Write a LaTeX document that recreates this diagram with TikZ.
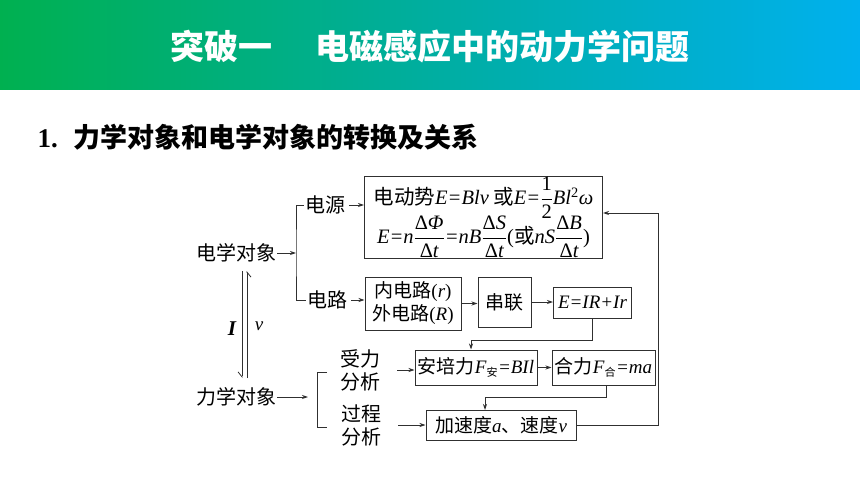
\RequirePackage{fix-cm}
\documentclass[tikz,border=0pt]{standalone}
\usepackage{amsmath}
\usepackage{fontspec}
\newfontfamily\cjk{Noto Sans CJK SC}
\newfontfamily\tms{Liberation Serif}
\newcommand\vv[1]{{\tms\itshape #1}}
\newcommand\frc[2]{$\dfrac{\mbox{\tms #1}}{\mbox{\tms #2}}$}
\newcommand\sbs[1]{$_{\mbox{\cjk\fontsize{11}{11}\selectfont #1}}$}
\usetikzlibrary{arrows.meta,positioning}
\definecolor{headgreen}{HTML}{00B050}
\definecolor{headteal}{HTML}{00AEA0}
\definecolor{headblue}{HTML}{00B0EE}
\definecolor{lineclr}{HTML}{303030}

\begin{document}
\begin{tikzpicture}[x=1pt, y=-1pt, >={Stealth[length=6pt,width=4pt]},
  lbl/.style={font=\cjk\fontsize{20}{23}\selectfont, inner sep=1pt, align=center},
  box/.style={draw=lineclr, line width=1pt, font=\cjk\fontsize{19}{23}\selectfont, inner sep=1pt, align=center},
  conn/.style={draw=lineclr, line width=0.9pt},
  harp/.style={draw=lineclr, line width=0.8pt, -{Straight Barb[harpoon,swap,length=5pt,width=8pt]}}]
\useasboundingbox (0,0) rectangle (860,484);
% header band
\shade[left color=headgreen, right color=headblue, middle color=headteal] (0,0) rectangle (860,90);
\node[font=\cjk\bfseries\fontsize{34}{40}\selectfont, text=white] (title) at (430,47) {突破一\hspace{44pt}电磁感应中的动力学问题};
\node[anchor=west, font=\cjk\bfseries\fontsize{27}{30}\selectfont] (sub) at (34,137) {{\tms\bfseries 1.}\hspace{16pt}力学对象和电学对象的转换及关系};

% left column
\node[lbl] (elec) at (236,253) {电学对象};
\node[lbl] (mech) at (236,397) {力学对象};
\node[lbl] (src) at (325,205) {电源};
\node[lbl] (circ) at (327,300) {电路};
\node[lbl] (force) at (360,370) {受力\\分析};
\node[lbl] (proc) at (361,425) {过程\\分析};

% boxes
\node[box, minimum width=238, minimum height=81, font=\cjk\fontsize{20.5}{24}\selectfont] (emf) at (483.5,217.5)
  {电动势\vv{E=Blv} 或\vv{E=}\frc{1}{2}\vv{Bl}\textsuperscript{\tms 2}\vv{ω}\\[-4pt]
   \vv{E=n}\frc{Δ\itshape Φ}{Δ\itshape t}\vv{=nB}\frc{Δ\itshape S}{Δ\itshape t}{\tms(}或\vv{nS}\frc{Δ\itshape B}{Δ\itshape t}{\tms)}};
\node[box, minimum width=96, minimum height=53] (inner) at (413,303.5) {内电路{\tms(\itshape r\/\upshape)}\\外电路{\tms(\itshape R\/\upshape)}};
\node[box, minimum width=53, minimum height=50] (series) at (504.5,302) {串联};
\node[box, minimum width=78, minimum height=31] (ohm) at (592.5,302.5) {\vv{E=IR+Ir}};
\node[box, minimum width=122, minimum height=35] (amp) at (476,367.5) {安培力\vv{F}\sbs{安}\vv{=BIl}};
\node[box, minimum width=103, minimum height=35] (net) at (603.5,367.5) {合力\vv{F}\sbs{合}\vv{=ma}};
\node[box, minimum width=150, minimum height=30] (acc) at (501,425.5) {加速度\vv{a}、速度\vv{v}};

% connectors
\coordinate (ebr) at (296,253);
\coordinate (mtip) at (308,397);
\draw[conn, ->] (elec.east) -- (ebr);
\draw[conn] (src.west) -| (ebr) |- (circ.west);
\draw[conn, ->] ([xshift=3pt]src.east) -- (src.east -| emf.west);
\draw[conn, ->] ([xshift=3pt]circ.east) -- (circ.east -| inner.west);
\draw[conn, ->] (inner.east) -- (inner.east -| series.west);
\draw[conn, ->] (series.east) -- (series.east -| ohm.west);
\draw[conn, ->] (ohm.south) -- ++(0,22) -| ([xshift=-5pt]amp.north);
\draw[conn, ->] (amp.east) -- (net.west);
\draw[conn, ->] ([xshift=3pt]net.south) -- ++(0,12) -| ([xshift=-16pt]acc.north);
\draw[conn, ->] (acc.east) -- ++(82,0) |- ([yshift=4.5pt]emf.east);
\draw[conn, ->] (mech.east) -- (mtip);
\draw[conn] (327,372) -- (317,372) -- (317,427) -- (327,427);
\draw[conn, ->] ([xshift=16pt]force.east) -- (force.east -| amp.west);
\draw[conn, ->] ([xshift=16pt]proc.east) -- (proc.east -| acc.west);

% I / v double arrow
\coordinate (dtop) at (244.5,271);
\coordinate (dbot) at (244.5,378);
\draw[harp] ([xshift=-2.5pt]dtop) -- ([xshift=-2.5pt]dbot);
\draw[harp] ([xshift=2.5pt]dbot) -- ([xshift=2.5pt]dtop);
\node[font=\tms\bfseries\itshape\fontsize{21}{22}\selectfont] (cur) at (232,329) {I};
\node[font=\tms\itshape\fontsize{19}{22}\selectfont] (vel) at (259,326) {v};
\end{tikzpicture}
\end{document}
